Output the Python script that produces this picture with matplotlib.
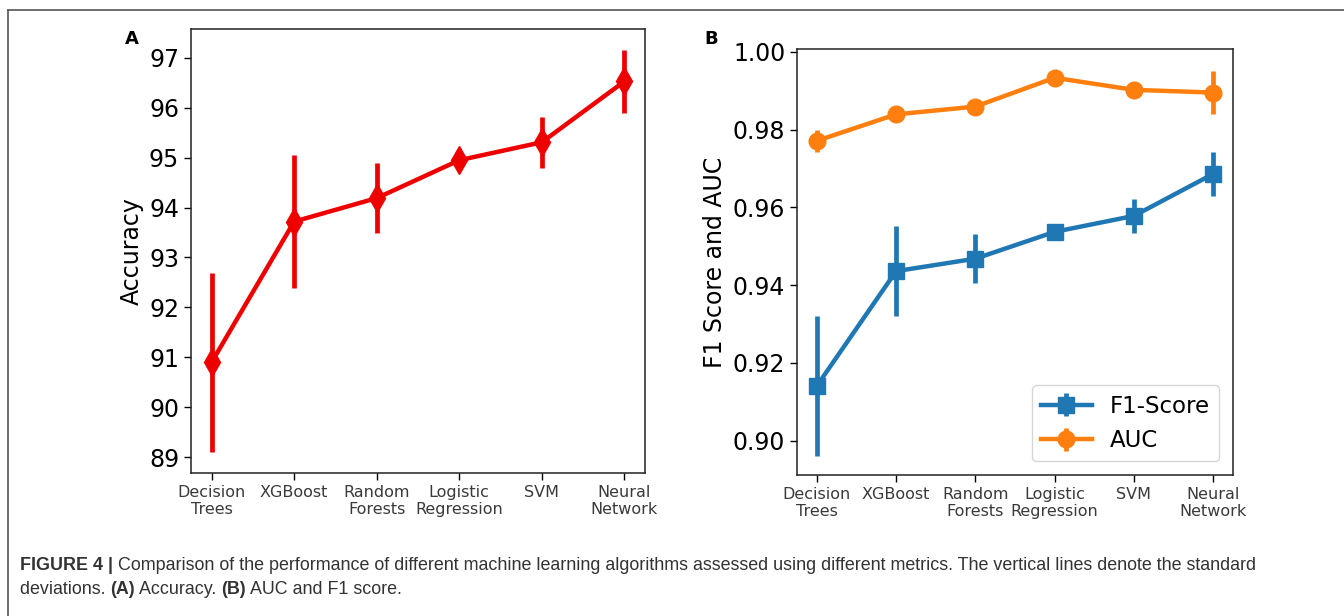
import matplotlib
matplotlib.use("Agg")
import matplotlib.pyplot as plt
from matplotlib.lines import Line2D

# ------------------------------------------------------------
# Données
# ------------------------------------------------------------
models = ["Decision\nTrees", "XGBoost", "Random\nForests", "Logistic\nRegression", "SVM", "Neural\nNetwork"]

acc_mean = [90.90, 93.72, 94.19, 94.95, 95.31, 96.53]
acc_sd   = [1.79, 1.34, 0.70, 0.21, 0.51, 0.63]

f1_mean  = [0.9141, 0.9436, 0.9468, 0.9537, 0.9578, 0.9686]
f1_sd    = [0.0180, 0.0115, 0.0063, 0.0010, 0.0043, 0.0057]

auc_mean = [0.9771, 0.9839, 0.9859, 0.9933, 0.9902, 0.9895]
auc_sd   = [0.0029, 0.0008, 0.0008, 0.0008, 0.0008, 0.0055]

W, H = 1344, 616
fig = plt.figure(figsize=(W / 100, H / 100), dpi=100)
fig.patch.set_facecolor("white")

x = list(range(len(models)))

def px_axes(l, t, r, b):
    return fig.add_axes([l / W, 1 - b / H, (r - l) / W, (b - t) / H])

def style_axes(ax):
    for s in ax.spines.values():
        s.set_linewidth(1.1)
        s.set_color("#222222")
    ax.tick_params(axis="y", labelsize=17, length=5, width=1)
    ax.tick_params(axis="x", labelsize=11.5, length=5, width=1, labelcolor="#3a3a3a")
    ax.set_xticks(x)
    ax.set_xticklabels(models)
    ax.set_xlim(-0.25, len(models) - 0.75)

# ------------------------------------------------------------
# A — Accuracy
# ------------------------------------------------------------
axA = px_axes(191, 29, 645, 473)
axA.errorbar(x, acc_mean, yerr=acc_sd, color="#ee0000", lw=3.2, elinewidth=3.4,
             marker="d", markersize=14, capsize=0)
axA.set_ylim(88.68, 97.58)
axA.set_yticks(range(89, 98))
axA.set_ylabel("Accuracy", fontsize=17)
style_axes(axA)

# ------------------------------------------------------------
# B — F1 Score et AUC
# ------------------------------------------------------------
axB = px_axes(797, 49, 1233, 475)
axB.errorbar(x, f1_mean, yerr=f1_sd, color="#1f77b4", lw=3.2, elinewidth=3.4,
             marker="s", markersize=12, capsize=0, label="F1-Score")
axB.errorbar(x, auc_mean, yerr=auc_sd, color="#ff7f0e", lw=3.2, elinewidth=3.4,
             marker="o", markersize=12, capsize=0, label="AUC")
axB.set_ylim(0.8912, 1.0007)
axB.set_yticks([0.90, 0.92, 0.94, 0.96, 0.98, 1.00])
axB.set_yticklabels(["0.90", "0.92", "0.94", "0.96", "0.98", "1.00"])
axB.set_ylabel("F1 Score and AUC", fontsize=17)
style_axes(axB)
leg = axB.legend(loc="lower right", fontsize=16.5, frameon=True, fancybox=True,
                 handlelength=2.2, borderaxespad=0.6)
leg.get_frame().set_edgecolor("#cccccc")

# lettres des panneaux
fig.text(132 / W, 1 - 39 / H, "A", fontsize=13, fontweight="bold", ha="center", va="center")
fig.text(711 / W, 1 - 39 / H, "B", fontsize=13, fontweight="bold", ha="center", va="center")

# cadre gris (haut + gauche)
fig.add_artist(Line2D([8 / W, 8 / W], [0, 1 - 10 / H], transform=fig.transFigure, color="#555555", lw=1.2))
fig.add_artist(Line2D([8 / W, 1], [1 - 10 / H, 1 - 10 / H], transform=fig.transFigure, color="#555555", lw=1.2))

# ------------------------------------------------------------
# Légende de la figure (morceaux gras / normaux)
# ------------------------------------------------------------
cap_font = ["Liberation Sans", "DejaVu Sans"]
cap_size = 12.9
cap_lines = [
    (566, [("FIGURE 4 |", "bold"),
           (" Comparison of the performance of different machine learning algorithms assessed using different metrics. The vertical lines denote the standard", "normal")]),
    (589, [("deviations. ", "normal"), ("(A)", "bold"), (" Accuracy. ", "normal"),
           ("(B)", "bold"), (" AUC and F1 score.", "normal")]),
]
renderer = fig.canvas.get_renderer()
for ypx, pieces in cap_lines:
    xpx = 20
    for txt, wt in pieces:
        t = fig.text(xpx / W, 1 - ypx / H, txt, fontsize=cap_size, fontweight=wt,
                     family=cap_font, color="#333333", ha="left", va="center")
        bb = t.get_window_extent(renderer=renderer)
        xpx += bb.width

fig.savefig("out.png", dpi=100)
